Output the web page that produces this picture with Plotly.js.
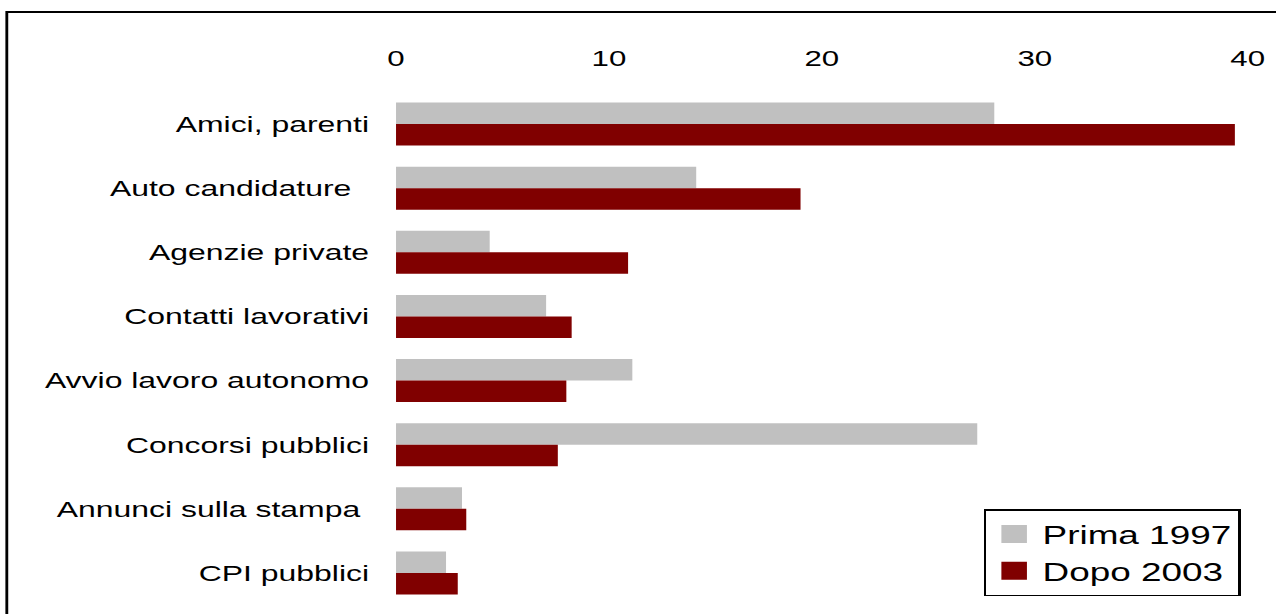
<!DOCTYPE html>
<html>
<head>
<meta charset="utf-8">
<script src="https://cdn.plot.ly/plotly-3.0.1.min.js"></script>
<style>
  html, body { margin: 0; padding: 0; background: #fff; overflow: hidden; }
  #chart { width: 899px; height: 614px; transform: scaleX(1.4194); transform-origin: 0 0; }
</style>
</head>
<body>
<div id="chart"></div>
<script>
// Data
const categories = [
  "Amici, parenti",
  "Auto candidature\u00a0\u00a0",
  "Agenzie private",
  "Contatti lavorativi",
  "Avvio lavoro autonomo",
  "Concorsi pubblici",
  "Annunci sulla stampa\u00a0",
  "CPI pubblici"
];
const prima1997 = [28.1, 14.1, 4.4, 7.05, 11.1, 27.3, 3.1, 2.35];
const dopo2003  = [39.4, 19.0, 10.9, 8.25, 8.0, 7.6, 3.3, 2.9];
const seriesNames = ["Prima 1997", "Dopo 2003"];
const xTicks = [0, 10, 20, 30, 40];

const FONT = "Liberation Sans, Arial, sans-serif";

const traces = [
  { type: "bar", orientation: "h", name: seriesNames[0], y: categories, x: prima1997,
    marker: { color: "#C0C0C0" }, hoverinfo: "x+name" },
  { type: "bar", orientation: "h", name: seriesNames[1], y: categories, x: dopo2003,
    marker: { color: "#800000" }, hoverinfo: "x+name" }
];

const layout = {
  width: 899, height: 614,
  margin: { l: 279, r: 20, t: 92, b: 9, pad: 0 },
  paper_bgcolor: "#ffffff", plot_bgcolor: "#ffffff",
  barmode: "group", bargap: 0.33, bargroupgap: 0,
  font: { family: FONT, color: "#000000", size: 22.5 },
  showlegend: true,
  legend: {
    x: 0.69, y: 0.187, xanchor: "left", yanchor: "top",
    bgcolor: "#ffffff", bordercolor: "#000000", borderwidth: 1.5,
    font: { family: FONT, size: 26, color: "#000000" },
    traceorder: "normal", itemclick: false, itemdoubleclick: false
  },
  xaxis: {
    side: "top", range: [0, 40], tickvals: xTicks, ticktext: xTicks.map(String),
    showgrid: false, zeroline: false, showline: false, ticks: "",
    ticklabelstandoff: 21,
    tickfont: { family: FONT, size: 22, color: "#000000" }, fixedrange: true
  },
  yaxis: {
    autorange: "reversed", showgrid: false, zeroline: false, showline: false, ticks: "",
    ticklabelstandoff: 18,
    tickfont: { family: FONT, size: 22.5, color: "#000000" }, fixedrange: true
  },
  shapes: [
    { type: "rect", xref: "paper", yref: "paper", x0: -0.457, x1: 1.2, y0: -0.2, y1: 1.156,
      line: { color: "#000000", width: 2 }, fillcolor: "rgba(0,0,0,0)", layer: "below" }
  ]
};

Plotly.newPlot("chart", traces, layout, { displayModeBar: false }).then(function () {
  document.querySelectorAll("#chart .legendpoints path").forEach(function (p) {
    var t = p.getAttribute("transform") || "";
    p.setAttribute("transform", t + " scale(1.5)");
  });
});
</script>
</body>
</html>
